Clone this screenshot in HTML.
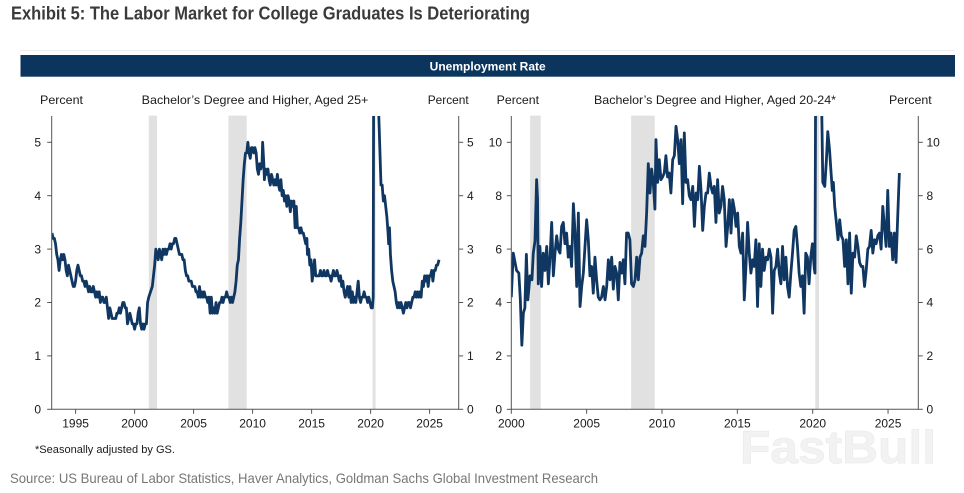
<!DOCTYPE html>
<html>
<head>
<meta charset="utf-8">
<style>
  html, body { margin:0; padding:0; background:#ffffff; }
  body { width:964px; height:493px; overflow:hidden; }
  svg { display:block; }
  .t { font-family: "Liberation Sans", Arial, sans-serif; }
</style>
</head>
<body>
<svg width="964" height="493" viewBox="0 0 964 493" xmlns="http://www.w3.org/2000/svg">
  <defs>
    <clipPath id="cl"><rect x="52" y="116" width="406.7" height="293.3"/></clipPath>
    <clipPath id="cr"><rect x="511.3" y="116" width="407" height="293.3"/></clipPath>
  </defs>
  <rect x="0" y="0" width="964" height="493" fill="#ffffff"/>

  <!-- Title -->
  <text class="t" x="11" y="19.5" font-size="18" font-weight="bold" fill="#3a3a3a" textLength="519" lengthAdjust="spacingAndGlyphs">Exhibit 5: The Labor Market for College Graduates Is Deteriorating</text>

  <!-- header bar -->
  <rect x="20" y="50" width="935" height="1" fill="#f0f0f0"/>
  <rect x="20.5" y="55" width="934.5" height="21.7" fill="#0c355e"/>
  <text class="t" x="487.7" y="70.5" font-size="12" font-weight="bold" fill="#ffffff" text-anchor="middle">Unemployment Rate</text>

  <!-- subtitles -->
  <g class="t" font-size="12" fill="#1a1a1a">
    <text x="40" y="104" textLength="43" lengthAdjust="spacingAndGlyphs">Percent</text>
    <text x="141.7" y="104" textLength="226.6" lengthAdjust="spacingAndGlyphs">Bachelor’s Degree and Higher, Aged 25+</text>
    <text x="427.7" y="104" textLength="41" lengthAdjust="spacingAndGlyphs">Percent</text>
    <text x="496.7" y="104" textLength="42.3" lengthAdjust="spacingAndGlyphs">Percent</text>
    <text x="594" y="104" textLength="242" lengthAdjust="spacingAndGlyphs">Bachelor’s Degree and Higher, Aged 20-24*</text>
    <text x="889" y="104" textLength="42.7" lengthAdjust="spacingAndGlyphs">Percent</text>
  </g>

  <!-- ================= LEFT CHART ================= -->
  <g transform="matrix(11.8,0,0,-53.4,-23465.4,409.3)" fill="#e1e1e1">
    <rect x="2001.2" y="0" width="0.7" height="5.5"/>
    <rect x="2007.95" y="0" width="1.55" height="5.5"/>
    <rect x="2020.17" y="0" width="0.25" height="5.5"/>
  </g>
  <g clip-path="url(#cl)">
    <g transform="matrix(11.8,0,0,-53.4,-23465.4,409.3)">
      <polyline vector-effect="non-scaling-stroke" fill="none" stroke="#0f3761" stroke-width="2.8" stroke-linejoin="round" points="
1993.0,3.3 1993.1,3.2 1993.2,3.2 1993.3,3.1 1993.4,2.9 1993.5,2.8 1993.6,2.6 1993.7,2.8 1993.8,2.9 1993.9,2.8 1994.0,2.9 1994.1,2.8 1994.2,2.6 1994.3,2.5 1994.4,2.7 1994.5,2.6 1994.6,2.5 1994.7,2.4 1994.8,2.3 1994.9,2.3 1995.0,2.4 1995.1,2.6 1995.2,2.7 1995.3,2.6 1995.4,2.5 1995.5,2.5 1995.6,2.4 1995.7,2.4 1995.8,2.3 1995.9,2.4 1996.0,2.3 1996.1,2.2 1996.2,2.3 1996.3,2.2 1996.4,2.2 1996.5,2.3 1996.6,2.2 1996.7,2.1 1996.8,2.2 1996.9,2.1 1997.0,2.2 1997.1,2.0 1997.2,2.1 1997.3,2.1 1997.4,2.0 1997.5,2.0 1997.6,2.1 1997.7,1.9 1997.8,1.7 1997.9,1.9 1998.0,1.8 1998.1,1.7 1998.2,1.7 1998.3,1.7 1998.4,1.7 1998.5,1.8 1998.6,1.8 1998.7,1.9 1998.8,1.8 1998.9,1.9 1999.0,2.0 1999.1,2.0 1999.2,1.9 1999.3,1.9 1999.4,1.6 1999.5,1.7 1999.6,1.8 1999.7,1.7 1999.8,1.6 1999.9,1.6 2000.0,1.5 2000.1,1.6 2000.2,1.6 2000.3,1.8 2000.4,1.9 2000.5,1.6 2000.6,1.5 2000.7,1.6 2000.8,1.5 2000.9,1.6 2001.0,1.6 2001.1,2.0 2001.2,2.1 2001.35,2.2 2001.5,2.3 2001.6,2.5 2001.7,2.7 2001.8,3.0 2001.9,2.9 2002.0,2.8 2002.1,3.0 2002.2,2.9 2002.3,2.8 2002.4,3.0 2002.5,2.9 2002.6,3.0 2002.7,2.9 2002.8,3.0 2002.9,3.0 2003.0,3.1 2003.1,3.0 2003.2,3.1 2003.3,3.1 2003.4,3.2 2003.5,3.2 2003.6,3.1 2003.7,3.0 2003.8,2.9 2003.9,2.9 2004.0,2.9 2004.1,2.8 2004.2,2.8 2004.3,2.6 2004.4,2.5 2004.5,2.5 2004.6,2.4 2004.7,2.4 2004.8,2.4 2004.9,2.3 2005.0,2.3 2005.1,2.3 2005.2,2.2 2005.3,2.2 2005.4,2.1 2005.5,2.3 2005.6,2.1 2005.7,2.2 2005.8,2.1 2005.9,2.2 2006.0,2.1 2006.1,2.1 2006.2,2.0 2006.3,2.1 2006.4,1.8 2006.5,2.1 2006.6,1.8 2006.7,1.9 2006.8,1.8 2006.9,2.0 2007.0,1.8 2007.1,1.9 2007.2,2.0 2007.3,2.0 2007.4,2.1 2007.5,2.0 2007.6,2.1 2007.7,2.1 2007.8,2.2 2007.9,2.1 2008.0,2.1 2008.1,2.0 2008.2,2.1 2008.3,2.0 2008.4,2.1 2008.5,2.2 2008.6,2.4 2008.7,2.7 2008.8,2.8 2008.9,3.2 2009.0,3.5 2009.1,3.9 2009.2,4.3 2009.3,4.6 2009.4,4.8 2009.5,4.8 2009.6,5.0 2009.7,4.8 2009.8,4.7 2009.9,4.9 2010.0,4.9 2010.1,4.8 2010.2,4.9 2010.3,4.8 2010.4,4.5 2010.5,4.4 2010.6,4.6 2010.7,4.5 2010.8,4.6 2010.85,5.0 2010.95,4.6 2011.0,4.3 2011.1,4.5 2011.2,4.4 2011.3,4.5 2011.4,4.3 2011.5,4.2 2011.6,4.4 2011.7,4.3 2011.8,4.2 2011.9,4.3 2012.0,4.2 2012.1,4.4 2012.2,4.2 2012.3,4.1 2012.4,4.3 2012.5,4.0 2012.6,4.1 2012.7,3.9 2012.8,4.0 2012.9,3.8 2013.0,4.0 2013.1,3.9 2013.2,3.7 2013.3,3.9 2013.4,3.8 2013.5,3.9 2013.6,3.4 2013.7,3.8 2013.8,3.4 2013.9,3.4 2014.0,3.3 2014.1,3.4 2014.2,3.3 2014.3,3.3 2014.4,3.2 2014.5,3.1 2014.6,3.2 2014.65,2.9 2014.75,3.0 2014.85,2.7 2014.95,2.8 2015.05,2.4 2015.15,2.6 2015.25,2.8 2015.35,2.5 2015.45,2.5 2015.55,2.5 2015.65,2.5 2015.75,2.6 2015.85,2.5 2015.95,2.5 2016.05,2.6 2016.15,2.5 2016.25,2.5 2016.35,2.6 2016.45,2.5 2016.55,2.5 2016.65,2.4 2016.75,2.5 2016.85,2.6 2016.95,2.5 2017.05,2.5 2017.15,2.6 2017.25,2.5 2017.35,2.4 2017.45,2.5 2017.55,2.3 2017.65,2.4 2017.75,2.2 2017.85,2.1 2017.95,2.2 2018.05,2.3 2018.15,2.1 2018.25,2.3 2018.35,2.0 2018.45,2.2 2018.55,2.0 2018.65,2.1 2018.75,2.0 2018.85,2.2 2018.95,2.4 2019.05,2.1 2019.15,2.0 2019.25,2.1 2019.35,2.1 2019.45,2.2 2019.55,2.1 2019.65,2.1 2019.75,2.0 2019.85,2.1 2019.95,2.0 2020.05,1.9 2020.15,1.9 2020.22,2.1 2020.28,8.4 2020.4,7.4 2020.5,6.9 2020.6,6.3 2020.68,5.6 2020.78,4.9 2020.88,4.2 2020.98,4.2 2021.08,3.9 2021.18,4.0 2021.28,3.8 2021.38,3.6 2021.48,3.3 2021.53,3.1 2021.6,3.4 2021.68,2.9 2021.78,2.6 2021.88,2.4 2021.98,2.3 2022.08,2.2 2022.18,2.0 2022.28,1.9 2022.38,2.0 2022.48,1.9 2022.58,2.0 2022.68,1.9 2022.78,1.8 2022.88,1.9 2022.98,2.0 2023.08,1.9 2023.18,2.0 2023.28,2.0 2023.38,1.9 2023.48,2.0 2023.58,2.1 2023.68,2.1 2023.78,2.2 2023.88,2.1 2023.98,2.2 2024.08,2.1 2024.18,2.2 2024.28,2.1 2024.38,2.4 2024.48,2.3 2024.58,2.5 2024.68,2.4 2024.78,2.5 2024.88,2.3 2024.98,2.5 2025.08,2.5 2025.18,2.6 2025.28,2.4 2025.38,2.6 2025.48,2.6 2025.58,2.7 2025.68,2.7 2025.8,2.8"/>
    </g>
  </g>

  <!-- left axes -->
  <g stroke="#555555" stroke-width="1" fill="none">
    <line x1="51.7" y1="116" x2="51.7" y2="409.8"/>
    <line x1="458.7" y1="116" x2="458.7" y2="409.8"/>
    <line x1="51.7" y1="409.3" x2="458.7" y2="409.3"/>
    <line x1="47.2" y1="409.3" x2="51.7" y2="409.3"/>
    <line x1="47.2" y1="355.9" x2="51.7" y2="355.9"/>
    <line x1="47.2" y1="302.5" x2="51.7" y2="302.5"/>
    <line x1="47.2" y1="249.1" x2="51.7" y2="249.1"/>
    <line x1="47.2" y1="195.7" x2="51.7" y2="195.7"/>
    <line x1="47.2" y1="142.3" x2="51.7" y2="142.3"/>
    <line x1="458.7" y1="409.3" x2="463.2" y2="409.3"/>
    <line x1="458.7" y1="355.9" x2="463.2" y2="355.9"/>
    <line x1="458.7" y1="302.5" x2="463.2" y2="302.5"/>
    <line x1="458.7" y1="249.1" x2="463.2" y2="249.1"/>
    <line x1="458.7" y1="195.7" x2="463.2" y2="195.7"/>
    <line x1="458.7" y1="142.3" x2="463.2" y2="142.3"/>
    <line x1="75.6" y1="409.3" x2="75.6" y2="413.8"/>
    <line x1="134.6" y1="409.3" x2="134.6" y2="413.8"/>
    <line x1="193.6" y1="409.3" x2="193.6" y2="413.8"/>
    <line x1="252.6" y1="409.3" x2="252.6" y2="413.8"/>
    <line x1="311.6" y1="409.3" x2="311.6" y2="413.8"/>
    <line x1="370.6" y1="409.3" x2="370.6" y2="413.8"/>
    <line x1="429.6" y1="409.3" x2="429.6" y2="413.8"/>
  </g>
  <g class="t" font-size="12" fill="#1a1a1a">
    <g text-anchor="end">
      <text x="41" y="413.5">0</text>
      <text x="41" y="360.1">1</text>
      <text x="41" y="306.7">2</text>
      <text x="41" y="253.3">3</text>
      <text x="41" y="199.9">4</text>
      <text x="41" y="146.5">5</text>
    </g>
    <g text-anchor="start">
      <text x="467" y="413.5">0</text>
      <text x="467" y="360.1">1</text>
      <text x="467" y="306.7">2</text>
      <text x="467" y="253.3">3</text>
      <text x="467" y="199.9">4</text>
      <text x="467" y="146.5">5</text>
    </g>
    <g text-anchor="middle">
      <text x="75.6" y="427.5">1995</text>
      <text x="134.6" y="427.5">2000</text>
      <text x="193.6" y="427.5">2005</text>
      <text x="252.6" y="427.5">2010</text>
      <text x="311.6" y="427.5">2015</text>
      <text x="370.6" y="427.5">2020</text>
      <text x="429.6" y="427.5">2025</text>
    </g>
  </g>

  <!-- ================= RIGHT CHART ================= -->
  <g transform="matrix(15.07,0,0,-26.7,-29628.7,409.3)" fill="#e1e1e1">
    <rect x="2001.25" y="0" width="0.7" height="11"/>
    <rect x="2007.95" y="0" width="1.57" height="11"/>
    <rect x="2020.17" y="0" width="0.25" height="11"/>
  </g>
  <g clip-path="url(#cr)">
    <g transform="matrix(15.07,0,0,-26.7,-29628.7,409.3)">
      <polyline vector-effect="non-scaling-stroke" fill="none" stroke="#0f3761" stroke-width="2.8" stroke-linejoin="round" points="
2000.0,4.2 2000.13,5.85 2000.35,5.2 2000.5,5.1 2000.6,4.1 2000.7,2.4 2000.8,3.6 2000.9,3.8 2001.0,5.8 2001.1,4.1 2001.24,5.0 2001.37,4.85 2001.46,5.85 2001.57,6.3 2001.68,8.6 2001.74,7.9 2001.79,4.7 2001.9,6.1 2002.01,4.6 2002.12,5.85 2002.23,5.2 2002.35,6.1 2002.46,4.7 2002.57,5.7 2002.68,7.0 2002.79,5.0 2002.9,5.85 2003.01,6.5 2003.12,6.0 2003.23,5.85 2003.34,6.85 2003.45,7.0 2003.56,6.2 2003.67,6.6 2003.78,5.7 2003.89,6.1 2004.0,5.35 2004.12,7.7 2004.23,6.6 2004.34,4.6 2004.45,7.35 2004.56,3.85 2004.67,4.6 2004.78,5.1 2004.89,6.1 2005.0,7.1 2005.11,6.35 2005.22,5.0 2005.33,5.35 2005.44,4.35 2005.55,5.7 2005.66,4.85 2005.77,4.2 2005.88,4.1 2005.99,4.2 2006.11,4.6 2006.22,4.1 2006.33,4.6 2006.44,5.6 2006.55,4.85 2006.66,5.7 2006.77,4.5 2006.88,5.35 2006.99,5.1 2007.1,4.1 2007.21,5.5 2007.32,5.1 2007.43,5.6 2007.54,4.7 2007.65,6.6 2007.76,6.6 2007.87,6.35 2007.98,4.7 2008.1,4.6 2008.21,4.85 2008.32,5.7 2008.43,4.85 2008.54,5.7 2008.65,5.85 2008.76,6.5 2008.87,6.1 2008.98,7.35 2009.09,9.2 2009.2,8.1 2009.31,9.0 2009.42,8.5 2009.53,7.5 2009.6,10.1 2009.71,8.5 2009.82,9.35 2009.93,8.6 2010.04,8.7 2010.15,8.85 2010.26,9.5 2010.37,8.7 2010.48,8.85 2010.59,8.1 2010.71,9.35 2010.82,9.5 2010.93,10.6 2011.04,10.1 2011.15,9.2 2011.26,10.1 2011.37,7.7 2011.48,10.35 2011.59,8.5 2011.7,8.6 2011.81,8.0 2011.92,7.85 2012.04,8.35 2012.15,6.85 2012.26,8.1 2012.37,7.85 2012.48,9.1 2012.59,8.2 2012.7,6.7 2012.81,7.6 2012.92,8.1 2013.03,8.1 2013.14,8.85 2013.25,8.35 2013.36,8.1 2013.47,8.35 2013.58,7.0 2013.69,8.6 2013.8,7.35 2013.91,7.6 2014.02,8.35 2014.13,7.85 2014.25,6.1 2014.36,6.85 2014.47,7.85 2014.58,6.6 2014.69,7.85 2014.8,7.5 2014.91,6.85 2015.02,7.35 2015.13,6.1 2015.24,5.85 2015.35,6.6 2015.46,4.1 2015.57,5.35 2015.68,7.0 2015.79,5.85 2015.9,5.1 2016.01,5.6 2016.12,5.35 2016.23,6.35 2016.34,3.85 2016.45,6.2 2016.56,4.6 2016.67,6.0 2016.78,5.2 2016.9,5.7 2017.01,5.6 2017.12,6.0 2017.23,5.7 2017.34,3.6 2017.45,5.2 2017.56,5.35 2017.67,6.0 2017.78,5.1 2017.89,4.7 2018.0,6.1 2018.11,4.85 2018.22,5.7 2018.33,4.6 2018.44,4.2 2018.55,5.1 2018.66,5.85 2018.77,6.7 2018.88,6.85 2018.99,6.1 2019.1,5.1 2019.21,4.6 2019.32,5.0 2019.43,3.6 2019.54,5.85 2019.65,5.7 2019.76,4.7 2019.87,5.7 2019.98,6.2 2020.1,5.3 2020.15,5.1 2020.22,16 2020.35,15 2020.48,13 2020.6,11.2 2020.67,8.5 2020.8,8.35 2020.91,9.35 2021.0,10.4 2021.12,9.7 2021.19,9.1 2021.3,8.2 2021.37,8.5 2021.46,7.6 2021.57,7.0 2021.68,6.35 2021.79,7.1 2021.9,6.5 2022.01,6.35 2022.12,5.35 2022.23,6.35 2022.34,4.7 2022.45,6.6 2022.56,4.35 2022.67,5.85 2022.78,5.7 2022.89,6.5 2023.0,6.1 2023.11,5.5 2023.22,5.35 2023.33,5.35 2023.44,4.6 2023.55,5.2 2023.66,6.0 2023.77,6.1 2023.88,6.7 2023.99,5.85 2024.1,6.35 2024.21,6.2 2024.32,6.5 2024.43,6.6 2024.54,6.0 2024.65,7.6 2024.76,6.85 2024.87,6.1 2024.98,8.2 2025.09,6.1 2025.2,6.6 2025.31,5.6 2025.42,6.6 2025.53,5.5 2025.64,7.2 2025.75,8.85"/>
    </g>
  </g>

  <!-- right axes -->
  <g stroke="#555555" stroke-width="1" fill="none">
    <line x1="511.3" y1="116" x2="511.3" y2="409.8"/>
    <line x1="918.3" y1="116" x2="918.3" y2="409.8"/>
    <line x1="511.3" y1="409.3" x2="918.3" y2="409.3"/>
    <line x1="506.8" y1="409.3" x2="511.3" y2="409.3"/>
    <line x1="506.8" y1="355.9" x2="511.3" y2="355.9"/>
    <line x1="506.8" y1="302.5" x2="511.3" y2="302.5"/>
    <line x1="506.8" y1="249.1" x2="511.3" y2="249.1"/>
    <line x1="506.8" y1="195.7" x2="511.3" y2="195.7"/>
    <line x1="506.8" y1="142.3" x2="511.3" y2="142.3"/>
    <line x1="918.3" y1="409.3" x2="922.8" y2="409.3"/>
    <line x1="918.3" y1="355.9" x2="922.8" y2="355.9"/>
    <line x1="918.3" y1="302.5" x2="922.8" y2="302.5"/>
    <line x1="918.3" y1="249.1" x2="922.8" y2="249.1"/>
    <line x1="918.3" y1="195.7" x2="922.8" y2="195.7"/>
    <line x1="918.3" y1="142.3" x2="922.8" y2="142.3"/>
    <line x1="511.3" y1="409.3" x2="511.3" y2="413.8"/>
    <line x1="586.65" y1="409.3" x2="586.65" y2="413.8"/>
    <line x1="662" y1="409.3" x2="662" y2="413.8"/>
    <line x1="737.35" y1="409.3" x2="737.35" y2="413.8"/>
    <line x1="812.7" y1="409.3" x2="812.7" y2="413.8"/>
    <line x1="888.05" y1="409.3" x2="888.05" y2="413.8"/>
  </g>
  <g class="t" font-size="12" fill="#1a1a1a">
    <g text-anchor="end">
      <text x="502" y="413.5">0</text>
      <text x="502" y="360.1">2</text>
      <text x="502" y="306.7">4</text>
      <text x="502" y="253.3">6</text>
      <text x="502" y="199.9">8</text>
      <text x="502" y="146.5">10</text>
    </g>
    <g text-anchor="start">
      <text x="926.5" y="413.5">0</text>
      <text x="926.5" y="360.1">2</text>
      <text x="926.5" y="306.7">4</text>
      <text x="926.5" y="253.3">6</text>
      <text x="926.5" y="199.9">8</text>
      <text x="926.5" y="146.5">10</text>
    </g>
    <g text-anchor="middle">
      <text x="511.3" y="427.5">2000</text>
      <text x="586.65" y="427.5">2005</text>
      <text x="662" y="427.5">2010</text>
      <text x="737.35" y="427.5">2015</text>
      <text x="812.7" y="427.5">2020</text>
      <text x="888.05" y="427.5">2025</text>
    </g>
  </g>

  <!-- watermark -->
  <text class="t" x="740" y="463" font-size="46" font-weight="bold" fill="#f2f2f2" stroke="#ececec" stroke-width="0.8" textLength="196" lengthAdjust="spacingAndGlyphs">FastBull</text>

  <!-- footnote & source -->
  <text class="t" x="35" y="453" font-size="11" fill="#1a1a1a" textLength="140" lengthAdjust="spacingAndGlyphs">*Seasonally adjusted by GS.</text>
  <text class="t" x="10" y="483" font-size="14" fill="#777777" textLength="588" lengthAdjust="spacingAndGlyphs">Source: US Bureau of Labor Statistics, Haver Analytics, Goldman Sachs Global Investment Research</text>
</svg>
</body>
</html>
